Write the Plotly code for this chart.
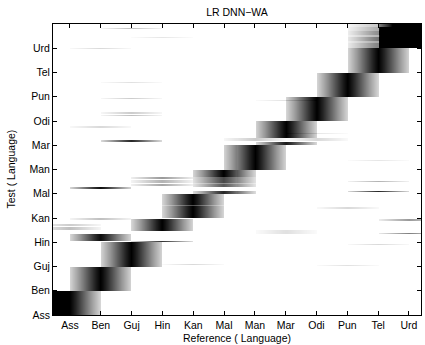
import numpy as np
import plotly.graph_objects as go

languages = ["Ass", "Ben", "Guj", "Hin", "Kan", "Mal", "Man", "Mar", "Odi", "Pun", "Tel", "Urd"]
tick_positions = list(range(len(languages)))

# darkness profile across the reference axis, offset from the column centre
profile_offset = [0.0, 0.1, 0.2, 0.3, 0.4, 0.5, 0.6, 0.7, 0.8, 0.9, 1.0]
profile_level = [1.0, 0.93, 0.85, 0.76, 0.67, 0.58, 0.49, 0.40, 0.32, 0.24, 0.16]

# test-utterance bands: start / end on the test axis, reference column, strength left / right of centre
seg_from = [0.00, 1.00, 2.00, 3.45, 3.00, 3.05, 3.50, 3.66, 3.92, 4.00, 4.50, 4.52,
            5.00, 5.06, 5.18, 5.26, 5.40, 5.45, 5.30, 5.45, 5.60, 5.70, 5.47,
            6.00, 7.00, 7.12, 7.15, 7.15, 7.27, 8.00, 9.00, 10.00,
            11.00, 11.87, 11.00, 11.20, 11.30, 11.45, 11.55, 11.70, 11.87, 11.78, 10.95,
            4.38, 3.88, 3.34, 3.36, 2.88, 2.03, 2.08, 6.36, 7.48, 8.84, 11.43,
            7.70, 8.20, 8.30, 8.92, 9.58]
seg_to = [1.00, 2.00, 3.00, 3.93, 3.05, 3.36, 3.62, 3.76, 3.97, 4.50, 4.52, 5.00,
          5.10, 5.12, 5.26, 5.40, 5.45, 5.70, 5.40, 5.55, 5.68, 6.00, 5.53,
          7.00, 7.12, 7.22, 7.27, 7.27, 8.00, 9.00, 10.00, 11.00,
          11.87, 12.00, 11.20, 11.30, 11.45, 11.55, 11.70, 11.87, 12.00, 11.84, 11.00,
          4.44, 3.93, 3.40, 3.50, 2.93, 2.07, 2.12, 6.40, 7.52, 8.88, 11.47,
          7.80, 8.26, 8.38, 8.96, 9.62]
seg_ref = [0, 1, 2, 3, 3, 1, 0, 0, 1, 4, 4, 4,
           5, 10, 1, 5, 5, 5, 3, 3, 3, 5, 10,
           6, 7, 2, 6, 8, 7, 8, 9, 10,
           11, 11, 10, 10, 10, 10, 10, 10, 10, 2, 1,
           9, 11, 11, 7, 10, 9, 4, 10, 8, 7, 3,
           1, 2, 2, 2, 2]
seg_left = [3.0, 1.0, 1.0, 1.0, 0.8, 0.95, 0.25, 0.2, 0.25, 1.0, 0.7, 1.0,
            0.85, 0.85, 0.95, 0.65, 0.45, 0.72, 0.35, 0.3, 0.4, 1.0, 0.3,
            1.0, 0.9, 0.85, 0.2, 0.15, 1.0, 1.0, 1.0, 1.0,
            3.5, 1.6, 0.5, 0.35, 0.55, 0.3, 0.45, 0.32, 0.22, 0.25, 0.15,
            0.15, 0.4, 0.5, 0.12, 0.15, 0.12, 0.15, 0.1, 0.1, 0.12, 0.1,
            0.15, 0.25, 0.2, 0.2, 0.12]
seg_right = [1.0, 1.0, 1.0, 1.0, 0.8, 0.95, 0.25, 0.2, 0.25, 1.0, 0.7, 1.0,
             0.85, 0.85, 0.95, 0.65, 0.45, 0.72, 0.35, 0.3, 0.4, 1.0, 0.3,
             1.0, 0.9, 0.85, 0.2, 0.15, 1.0, 1.0, 1.0, 1.0,
             3.5, 1.6, 0.5, 0.35, 0.55, 0.3, 0.45, 0.32, 0.22, 0.25, 0.15,
             0.15, 0.4, 0.5, 0.12, 0.15, 0.12, 0.15, 0.1, 0.1, 0.12, 0.1,
             0.15, 0.25, 0.2, 0.2, 0.12]

x_min, x_max = -0.55, 11.39
y_min, y_max = 0.0, 12.0
dx, dy = 0.0325, 0.02
x_c = np.arange(x_min + dx / 2, x_max, dx)
y_c = np.arange(y_min + dy / 2, y_max, dy)


def profile(d):
    ad = np.abs(d)
    return np.where(ad <= 1.0, np.interp(ad, profile_offset, profile_level), 0.0)


z = np.zeros((len(y_c), len(x_c)))
for a, b, r, sl, sr in zip(seg_from, seg_to, seg_ref, seg_left, seg_right):
    rows = (y_c >= a) & (y_c < b)
    d = x_c - r
    strength = np.where(d < 0, sl, sr)
    z[rows, :] += strength * profile(d)
z = np.clip(z, 0, 1).round(3)

font = dict(family="Liberation Sans, Arial, Helvetica, sans-serif", size=10.5, color="black")

fig = go.Figure(go.Heatmap(
    x=x_c.round(4), y=y_c.round(4), z=z,
    colorscale=[[0, "#ffffff"], [1, "#000000"]], zmin=0, zmax=1,
    showscale=False, hoverinfo="skip",
))

axis_common = dict(
    ticks="inside", ticklen=4, tickwidth=1, tickcolor="black",
    showline=True, linecolor="black", linewidth=1, mirror="ticks",
    showgrid=False, zeroline=False, tickfont=font,
    tickvals=tick_positions, ticktext=languages,
)

fig.update_layout(
    width=425, height=345,
    margin=dict(l=53, r=4, t=24, b=30),
    paper_bgcolor="white", plot_bgcolor="white",
    font=font,
    title=dict(text="LR DNN\u2212WA", x=0.5, xref="paper", xanchor="center",
               y=1 - 12.5 / 345, yanchor="middle", font=font),
    xaxis=dict(range=[x_min, x_max], **axis_common),
    yaxis=dict(range=[y_min, y_max], **axis_common),
    annotations=[
        dict(text="Reference ( Language)", xref="paper", yref="paper", x=0.5, y=-23 / 291,
             xanchor="center", yanchor="middle", showarrow=False, font=font),
        dict(text="Test ( Language)", xref="paper", yref="paper", x=(10 - 53) / 368, y=0.5,
             xanchor="center", yanchor="middle", textangle=-90, showarrow=False, font=font),
    ],
)

fig.write_html("out.html", config={"displayModeBar": False},
               post_script="document.body.style.margin='0';")
